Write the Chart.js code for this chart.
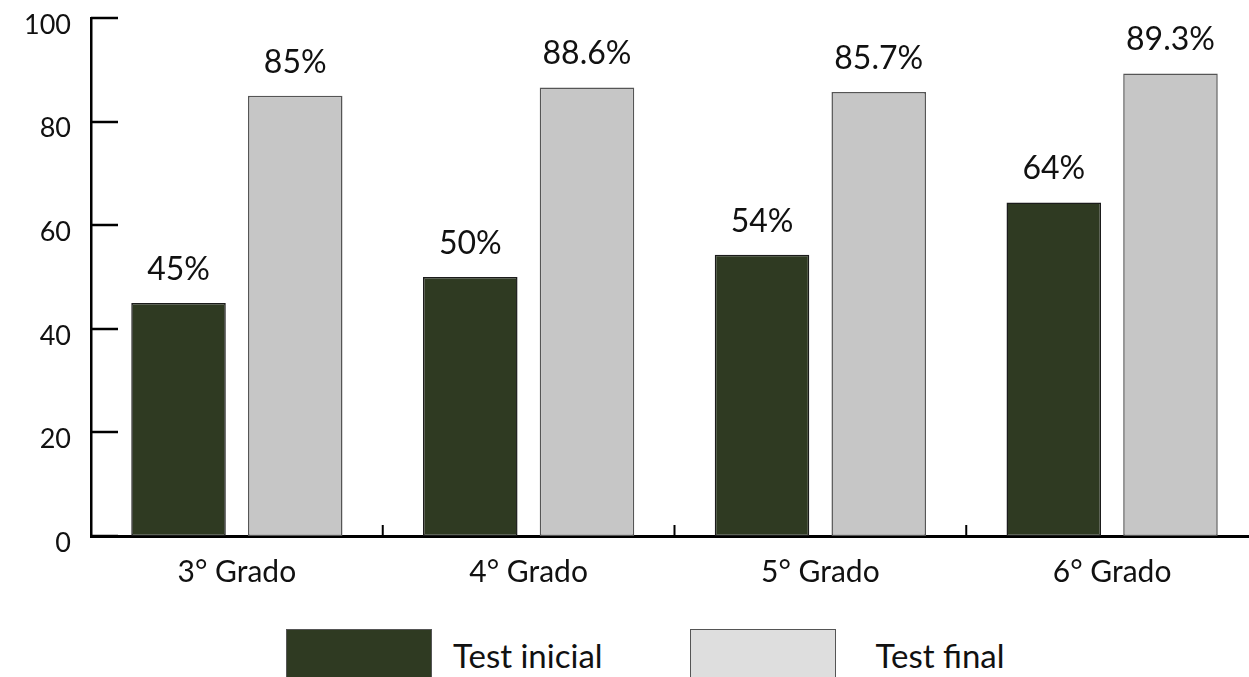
<!DOCTYPE html>
<html lang="es">
<head>
<meta charset="utf-8">
<title>Test inicial vs Test final</title>
<script src="https://cdn.jsdelivr.net/npm/chart.js@4.4.1/dist/chart.umd.min.js"></script>
<style>
  html, body { margin: 0; padding: 0; background: #fff; overflow: hidden; }
  body { width: 1249px; height: 677px; position: relative; font-family: Lato, "Noto Sans", sans-serif; }
  #wrap { position: absolute; left: 0; top: 0; width: 1262px; height: 600px; }
  #legend { position: absolute; left: 286px; top: 629px; display: flex; align-items: flex-start; }
  #legend .item { display: flex; align-items: flex-start; }
  #legend .box { width: 146px; height: 60px; box-sizing: border-box; border: 1.5px solid #555; }
  #legend .txt { font-size: 33px; color: #111; line-height: 1; margin-top: 10px; }
  #legend .item:nth-child(1) .txt { margin-left: 21px; margin-right: 87px; }
  #legend .item:nth-child(2) .txt { margin-left: 40px; }
</style>
</head>
<body>
<div id="wrap"><canvas id="chart"></canvas></div>
<div id="legend"></div>
<script>
// values
const GRADES = ['3° Grado', '4° Grado', '5° Grado', '6° Grado'];
const INICIAL = [45, 50, 54.3, 64.4];
const FINAL = [85, 86.6, 85.7, 89.3];
const INICIAL_LABELS = ['45%', '50%', '54%', '64%'];
const FINAL_LABELS = ['85%', '88.6%', '85.7%', '89.3%'];
const Y_TICKS = [0, 20, 40, 60, 80, 100];

const DARK = '#2f3a22';
const LIGHT = '#c6c6c6';
const LIGHT_LEGEND = '#dedede';
const FONT = 'Lato, "Noto Sans", sans-serif';

// inward y ticks + upward ticks between categories
const axisTicks = {
  id: 'axisTicks',
  afterDraw(chart) {
    const { ctx, chartArea, scales } = chart;
    ctx.save();
    ctx.strokeStyle = '#000';
    ctx.lineWidth = 2.5;
    Y_TICKS.forEach(v => {
      const y = Math.round(scales.y.getPixelForValue(v));
      ctx.beginPath();
      ctx.moveTo(chartArea.left, y);
      ctx.lineTo(chartArea.left + 27, y);
      ctx.stroke();
    });
    ctx.lineWidth = 2;
    for (let i = 1; i < GRADES.length; i++) {
      const x = (scales.x.getPixelForValue(i - 1) + scales.x.getPixelForValue(i)) / 2;
      ctx.beginPath();
      ctx.moveTo(x, chartArea.bottom);
      ctx.lineTo(x, chartArea.bottom - 11);
      ctx.stroke();
    }
    ctx.restore();
  }
};

// percentage text above each bar
const valueLabels = {
  id: 'valueLabels',
  afterDatasetsDraw(chart) {
    const { ctx } = chart;
    ctx.save();
    ctx.font = '32px ' + FONT;
    ctx.fillStyle = '#111';
    ctx.textAlign = 'center';
    ctx.textBaseline = 'alphabetic';
    chart.data.datasets.forEach((ds, di) => {
      chart.getDatasetMeta(di).data.forEach((bar, i) => {
        ctx.fillText(ds.valueLabels[i], bar.x, bar.y - 23);
      });
    });
    ctx.restore();
  }
};

const chart = new Chart(document.getElementById('chart'), {
  type: 'bar',
  data: {
    labels: GRADES,
    datasets: [
      {
        label: 'Test inicial',
        data: INICIAL,
        valueLabels: INICIAL_LABELS,
        backgroundColor: DARK,
        borderColor: '#1b1b1b',
        borderWidth: 1.5,
        borderSkipped: false,
        legendColor: DARK
      },
      {
        label: 'Test final',
        data: FINAL,
        valueLabels: FINAL_LABELS,
        backgroundColor: LIGHT,
        borderColor: '#555',
        borderWidth: 1.5,
        borderSkipped: false,
        legendColor: LIGHT_LEGEND
      }
    ]
  },
  options: {
    responsive: true,
    maintainAspectRatio: false,
    animation: false,
    categoryPercentage: 0.8,
    barPercentage: 0.81,
    layout: { padding: { top: 18, right: 4, bottom: 0, left: 0 } },
    plugins: {
      legend: { display: false },
      tooltip: { enabled: false }
    },
    scales: {
      x: {
        grid: { display: false, drawTicks: false },
        border: { display: true, color: '#000', width: 3 },
        ticks: { color: '#111', font: { family: FONT, size: 30 }, padding: 18 },
        afterFit: s => { s.height = 64; s.paddingLeft = 0; s.paddingRight = 0; }
      },
      y: {
        min: 0,
        max: 100,
        afterBuildTicks: s => { s.ticks = Y_TICKS.map(v => ({ value: v })); },
        grid: { display: false, drawTicks: false },
        border: { display: true, color: '#000', width: 2.5 },
        ticks: { color: '#111', font: { family: FONT, size: 27 }, padding: 20, labelOffset: 7 },
        afterFit: s => { s.width = 91; s.paddingTop = 0; s.paddingBottom = 0; }
      }
    }
  },
  plugins: [axisTicks, valueLabels]
});

// legend built from the datasets
document.getElementById('legend').innerHTML = chart.data.datasets.map(ds =>
  `<div class="item"><div class="box" style="background:${ds.legendColor}"></div><div class="txt">${ds.label}</div></div>`
).join('');
</script>
</body>
</html>
